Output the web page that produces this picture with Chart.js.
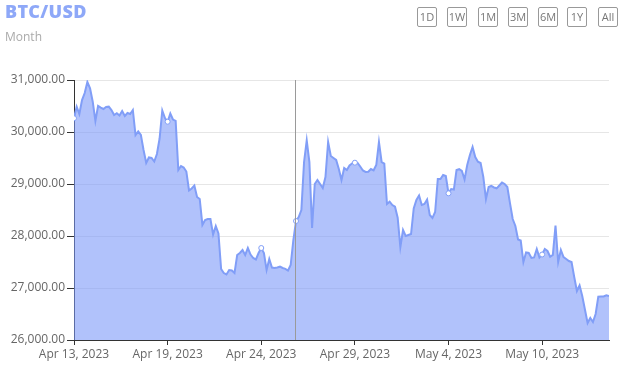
<!DOCTYPE html>
<html><head><meta charset="utf-8">
<script src="https://cdn.jsdelivr.net/npm/chart.js@4.4.0/dist/chart.umd.min.js"></script>
<style>
html,body{margin:0;padding:0;background:#fff;}
#wrap{position:relative;width:624px;height:370px;overflow:hidden;}
#c{position:absolute;left:0;top:0;}
.title{position:absolute;left:5px;top:-1px;font:800 18px "Open Sans",sans-serif;color:#8ea8f8;white-space:nowrap;letter-spacing:0.3px;}
.sub{position:absolute;left:5px;top:28px;font:400 12px "Open Sans",sans-serif;color:#aaa;}
.btn{position:absolute;top:7px;width:18px;height:18px;border:1px solid #999;border-radius:2px;font:400 11px "Open Sans",sans-serif;color:#777;text-align:center;line-height:18px;box-sizing:content-box;}
</style>
</head><body>
<div id="wrap">
<canvas id="c" width="624" height="370"></canvas>
<div class="title">BTC/USD</div>
<div class="sub">Month</div>
<div class="btn" style="left:417px">1D</div>
<div class="btn" style="left:447px">1W</div>
<div class="btn" style="left:478px">1M</div>
<div class="btn" style="left:508px">3M</div>
<div class="btn" style="left:538px">6M</div>
<div class="btn" style="left:567px">1Y</div>
<div class="btn" style="left:598px">All</div>
</div>
<script>
const values = [
30264,30487,30346,30615,30750,30962,30840,30583,30212,30500,
30467,30442,30481,30487,30423,30327,30360,30317,30404,30308,
30365,30346,30423,29942,30010,29942,29654,29404,29510,29500,
29433,29577,29875,30413,30269,30198,30356,30240,30212,29269,
29346,29317,29240,28875,28913,28971,28750,28712,28212,28308,
28327,28327,28029,28192,28048,27365,27288,27260,27346,27337,
27288,27635,27673,27731,27635,27769,27644,27577,27548,27673,
27769,27673,27346,27558,27394,27385,27394,27410,27385,27369,
27337,27442,27923,28288,28365,28500,29423,29837,29423,28154,
29000,29077,29000,28923,29135,29808,29538,29500,29462,29288,
29077,29308,29269,29356,29398,29410,29404,29337,29260,29231,
29237,29288,29263,29365,29808,29423,29394,28615,28660,28596,
28563,28352,27788,28115,28000,28019,28038,28529,28692,28779,
28596,28615,28702,28404,28346,28462,29096,29096,29173,29154,
28821,28904,28894,29269,29285,29250,29087,29365,29558,29712,
29519,29429,29404,29140,28712,28942,28962,28933,28917,28971,
29029,29000,28942,28629,28327,28192,27933,27913,27500,27683,
27673,27577,27587,27750,27587,27644,27750,27712,27602,27635,
28202,27500,27731,27596,27558,27519,27500,27212,26942,27048,
26846,26587,26327,26423,26346,26500,26833,26837,26837,26860,
26846
];
const xTickIdx = [0, 35, 70, 105, 140, 175];
const xTickLabels = ["Apr 13, 2023", "Apr 19, 2023", "Apr 24, 2023", "Apr 29, 2023", "May 4, 2023", "May 10, 2023"];
const yTicks = [26000, 27000, 28000, 29000, 30000, 31000];
const hoverIndex = 83;
const markIdx = xTickIdx.concat([hoverIndex]);

const lineColor = '#819ef7';
const crosshair = {
  id: 'crosshair',
  afterDatasetsDraw(chart) {
    const {ctx, chartArea, scales} = chart;
    const px = Math.round(scales.x.getPixelForValue(hoverIndex)) - 0.5;
    ctx.save();
    ctx.strokeStyle = '#9a9a9a';
    ctx.lineWidth = 1;
    ctx.beginPath();
    ctx.moveTo(px, chartArea.top);
    ctx.lineTo(px, chartArea.bottom);
    ctx.stroke();
    ctx.restore();
  }
};
const font = {family: '"Open Sans", sans-serif', size: 12};
new Chart(document.getElementById('c'), {
  type: 'line',
  data: {
    datasets: [{
      data: values.map((v, i) => ({x: i, y: v})),
      borderColor: lineColor,
      borderWidth: 2,
      backgroundColor: 'rgba(120,150,248,0.58)',
      fill: 'start',
      tension: 0,
      pointRadius: c => markIdx.includes(c.dataIndex) ? 2.5 : 0,
      pointBackgroundColor: '#fff',
      pointBorderColor: lineColor,
      pointBorderWidth: 1
    }]
  },
  options: {
    responsive: false,
    animation: false,
    events: [],
    layout: {padding: {top: 80, right: 15, left: 0, bottom: 0}},
    plugins: {legend: {display: false}, tooltip: {enabled: false}, title: {display: false}},
    scales: {
      x: {
        type: 'linear', min: 0, max: values.length - 1,
        afterBuildTicks: s => { s.ticks = xTickIdx.map(v => ({value: v})); },
        afterFit: s => { s.height = 30; },
        grid: {drawOnChartArea: false, tickLength: 5, tickColor: '#333'},
        border: {color: '#333', width: 1},
        ticks: {autoSkip: false, maxRotation: 0, padding: 2, color: '#666', font,
          callback: v => xTickLabels[xTickIdx.indexOf(v)]}
      },
      y: {
        min: yTicks[0], max: yTicks[yTicks.length - 1],
        afterBuildTicks: s => { s.ticks = yTicks.map(v => ({value: v})); },
        afterFit: s => { s.width = 74; },
        grid: {color: '#e6e6e6', tickColor: '#333', tickLength: 7},
        border: {color: '#333', width: 1},
        ticks: {padding: 2, color: '#666', font,
          callback: v => v.toLocaleString('en-US', {minimumFractionDigits: 2, maximumFractionDigits: 2})}
      }
    }
  },
  plugins: [crosshair]
});
</script>
</body></html>
